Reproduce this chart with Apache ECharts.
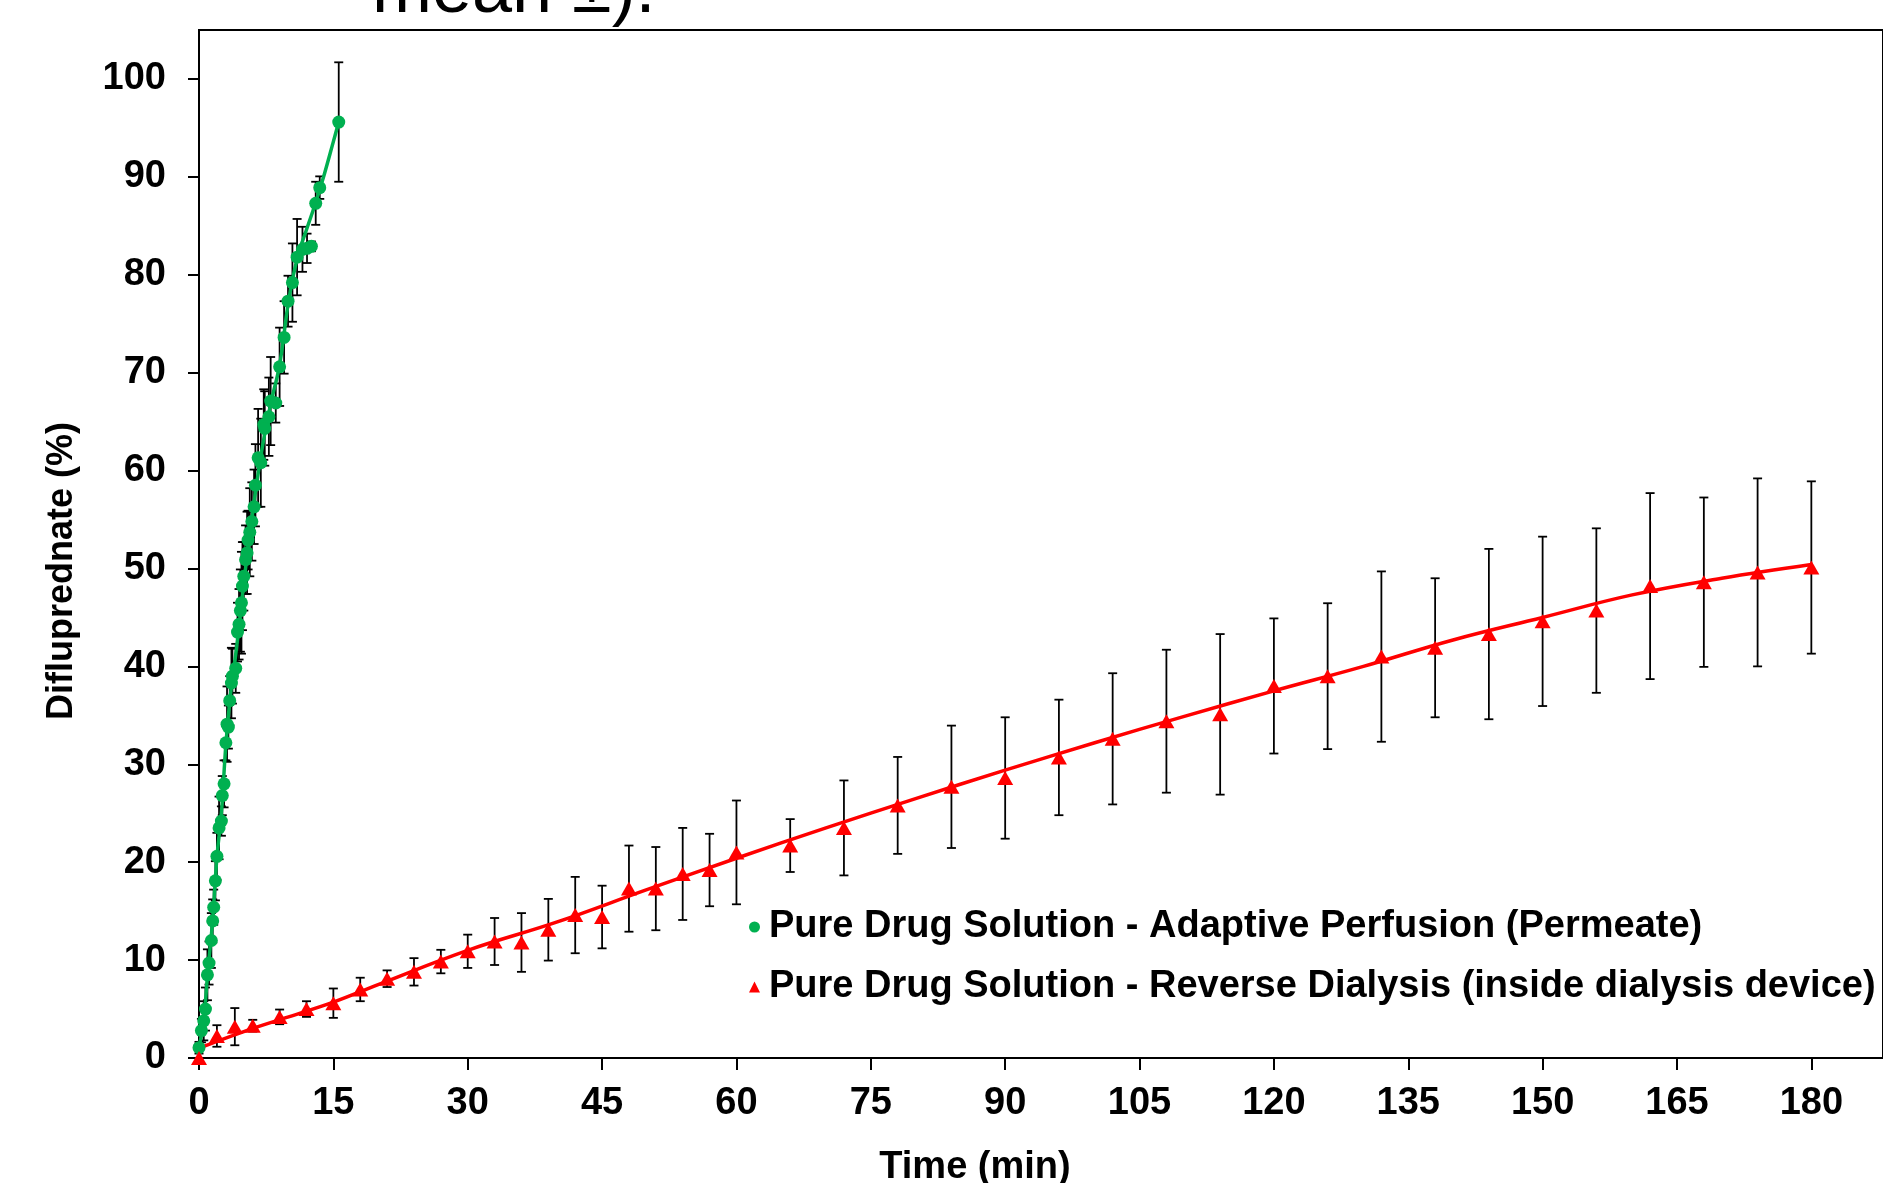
<!DOCTYPE html>
<html>
<head>
<meta charset="utf-8">
<title>Difluprednate release</title>
<script src="https://cdn.jsdelivr.net/npm/echarts@6/dist/echarts.min.js"></script>
<style>
  html, body { margin: 0; padding: 0; background: #fff; }
  #main { width: 1883px; height: 1183px; }
</style>
</head>
<body>
<div id="main"></div>
<script>
// tick labels
const xTicks = [0, 15, 30, 45, 60, 75, 90, 105, 120, 135, 150, 165, 180]
const yTicks = [0, 10, 20, 30, 40, 50, 60, 70, 80, 90, 100]

// Adaptive perfusion (permeate) - mean and SD
const greenTime = [0, 0.27, 0.53, 0.72, 0.94, 1.12, 1.38, 1.53, 1.64, 1.83, 2.0, 2.24, 2.5, 2.6, 2.8, 3.0, 3.13, 3.28, 3.43, 3.62, 3.73, 4.1, 4.3, 4.47, 4.62, 4.74, 4.85, 5.0, 5.2, 5.37, 5.48, 5.67, 5.9, 6.15, 6.3, 6.6, 6.9, 7.23, 7.34, 7.8, 8.0, 8.57, 9.0, 9.5, 9.94, 10.43, 10.95, 11.55, 12.06, 12.55, 13.03, 13.48, 15.6]
const greenMean = [1.05, 2.8, 3.8, 5.0, 8.5, 9.7, 12.0, 14.0, 15.4, 18.1, 20.6, 23.5, 24.2, 26.8, 28.0, 32.2, 34.1, 33.8, 36.5, 38.3, 39.0, 39.8, 43.5, 44.3, 45.7, 46.5, 48.2, 49.2, 50.9, 51.6, 52.9, 53.7, 54.8, 56.3, 58.5, 61.3, 60.8, 64.7, 64.3, 65.5, 67.1, 66.9, 70.6, 73.6, 77.3, 79.2, 81.8, 82.6, 82.7, 82.9, 87.3, 88.9, 95.6]
const greenSD = [0.6, 1.2, 2.0, 2.2, 2.6, 2.2, 2.8, 2.2, 1.8, 2.0, 2.4, 3.2, 1.5, 2.0, 2.4, 1.8, 3.85, 2.2, 2.5, 3.6, 2.8, 2.5, 3.0, 3.6, 4.2, 5.2, 4.5, 3.5, 3.5, 4.2, 3.0, 4.5, 4.0, 3.8, 4.2, 5.0, 4.5, 3.6, 3.8, 4.0, 4.5, 2.0, 4.0, 3.7, 2.6, 4.0, 3.9, 2.3, 1.5, 0.5, 2.2, 1.15, 6.1]

// smooth curve through the permeate data
const greenFitTime = [0, 0.5, 1, 1.5, 2, 2.5, 3, 3.5, 4, 4.5, 5, 6, 7, 8, 9, 10, 11, 12, 13, 14, 15, 15.6]
const greenFitVal = [1.1, 3.7, 9.0, 13.8, 20.5, 25.0, 32.0, 37.0, 40.5, 44.3, 48.5, 55.8, 62.0, 66.8, 70.8, 77.3, 81.8, 84.6, 87.3, 90.3, 93.6, 95.6]

// Reverse dialysis (inside dialysis device) - mean and SD
const redTime = [0, 2, 4, 6, 9, 12, 15, 18, 21, 24, 27, 30, 33, 36, 39, 42, 45, 48, 51, 54, 57, 60, 66, 72, 78, 84, 90, 96, 102, 108, 114, 120, 126, 132, 138, 144, 150, 156, 162, 168, 174, 180]
const redMean = [0, 2.25, 3.2, 3.3, 4.2, 5.0, 5.6, 7.0, 8.1, 8.8, 9.85, 10.9, 11.9, 11.8, 13.1, 14.6, 14.4, 17.3, 17.3, 18.8, 19.2, 21.0, 21.7, 23.5, 25.8, 27.7, 28.6, 30.7, 32.6, 34.4, 35.1, 38.0, 39.0, 41.0, 41.9, 43.3, 44.6, 45.7, 48.2, 48.6, 49.6, 50.1]
const redSD = [0, 1.1, 1.9, 0.6, 0.75, 0.8, 1.5, 1.2, 0.85, 1.4, 1.2, 1.7, 2.4, 3.0, 3.15, 3.9, 3.2, 4.4, 4.25, 4.7, 3.7, 5.3, 2.7, 4.85, 4.95, 6.25, 6.2, 5.9, 6.7, 7.3, 8.2, 6.9, 7.45, 8.7, 7.1, 8.7, 8.65, 8.4, 9.5, 8.65, 9.6, 8.8]

// smooth curve through the dialysis data
const redFitTime = [0, 5, 10, 15, 20, 30, 40, 50, 60, 70, 80, 90, 100, 110, 120, 130, 140, 150, 160, 170, 180]
const redFitVal = [1.0, 2.7, 4.2, 5.7, 7.5, 11.0, 13.9, 17.2, 20.4, 23.5, 26.5, 29.4, 32.2, 34.9, 37.5, 40.0, 42.7, 45.0, 47.3, 49.0, 50.4]

const greenName = 'Pure Drug Solution - Adaptive Perfusion (Permeate)'
const redName = 'Pure Drug Solution - Reverse Dialysis (inside dialysis device)'

const font = '"Liberation Sans", Arial, sans-serif'
const pairs = (xs, ys) => xs.map((x, i) => [x, ys[i]])
const bars = (xs, m, sd) => xs.map((x, i) => [x, m[i] - sd[i], m[i] + sd[i]])

function errorBar(params, api) {
  const x = api.value(0)
  const lo = api.coord([x, api.value(1)])
  const hi = api.coord([x, api.value(2)])
  const w = 4.5
  const style = { stroke: '#000', lineWidth: 1.8 }
  return {
    type: 'group',
    children: [
      { type: 'line', shape: { x1: lo[0], y1: lo[1], x2: hi[0], y2: hi[1] }, style },
      { type: 'line', shape: { x1: hi[0] - w, y1: hi[1], x2: hi[0] + w, y2: hi[1] }, style },
      { type: 'line', shape: { x1: lo[0] - w, y1: lo[1], x2: lo[0] + w, y2: lo[1] }, style }
    ]
  }
}

const myChart = echarts.init(document.getElementById('main'))
const labelStyle = { color: '#000', fontSize: 38, fontWeight: 'bold', fontFamily: font }

let option = {
  animation: false,
  backgroundColor: '#fff',
  grid: {
    left: 199, right: 0, top: 30, bottom: 125,
    show: true, borderColor: '#000', borderWidth: 2
  },
  xAxis: {
    type: 'value', min: 0, max: 188,
    axisLine: { show: true, onZero: false, lineStyle: { color: '#000', width: 2 } },
    axisTick: { show: true, length: 12, customValues: xTicks, lineStyle: { color: '#000', width: 2 } },
    axisLabel: Object.assign({ customValues: xTicks, margin: 27 }, labelStyle),
    splitLine: { show: false }
  },
  yAxis: {
    type: 'value', min: 0, max: 105,
    axisLine: { show: true, onZero: false, lineStyle: { color: '#000', width: 2 } },
    axisTick: { show: true, length: 11, customValues: yTicks, lineStyle: { color: '#000', width: 2 } },
    axisLabel: Object.assign({ customValues: yTicks, margin: 33 }, labelStyle),
    splitLine: { show: false }
  },
  legend: {
    data: [{ name: greenName, icon: 'circle' }, { name: redName, icon: 'triangle' }],
    orient: 'vertical',
    left: 744, top: 903,
    itemWidth: 11, itemHeight: 11, itemGap: 22,
    textStyle: { color: '#000', fontSize: 38, fontWeight: 'bold', fontFamily: font, padding: [0, 0, 0, 4] }
  },
  graphic: [
    {
      type: 'text', x: 372, y: -8,
      style: { text: 'mean \u00b1).', fill: '#000', font: '72px ' + font, verticalAlign: 'middle' }
    },
    {
      type: 'text', x: 62, y: 571, rotation: Math.PI / 2,
      style: { text: 'Difluprednate (%)', fill: '#000', font: 'bold 36px ' + font, align: 'center', verticalAlign: 'middle' }
    },
    {
      type: 'text', x: 975, y: 1168,
      style: { text: 'Time (min)', fill: '#000', font: 'bold 38px ' + font, align: 'center', verticalAlign: 'middle' }
    }
  ],
  series: [
    {
      type: 'custom', name: 'green SD', renderItem: errorBar, silent: true, z: 2,
      encode: { x: 0, y: [1, 2] }, data: bars(greenTime, greenMean, greenSD)
    },
    {
      type: 'custom', name: 'red SD', renderItem: errorBar, silent: true, z: 2,
      encode: { x: 0, y: [1, 2] }, data: bars(redTime, redMean, redSD)
    },
    {
      type: 'line', name: 'green curve', data: pairs(greenFitTime, greenFitVal),
      smooth: 0.4, showSymbol: false, z: 3,
      lineStyle: { color: '#00B050', width: 3.5 }
    },
    {
      type: 'line', name: 'red curve', data: pairs(redFitTime, redFitVal),
      smooth: 0.4, showSymbol: false, z: 3,
      lineStyle: { color: '#FF0000', width: 3.5 }
    },
    {
      type: 'scatter', name: greenName, data: pairs(greenTime, greenMean),
      symbol: 'circle', symbolSize: 13, z: 4,
      itemStyle: { color: '#00B050', opacity: 1 }
    },
    {
      type: 'scatter', name: redName, data: pairs(redTime, redMean),
      symbol: 'triangle', symbolSize: [16, 14], z: 4,
      itemStyle: { color: '#FF0000', opacity: 1 }
    }
  ]
}

option && myChart.setOption(option)
</script>
</body>
</html>
